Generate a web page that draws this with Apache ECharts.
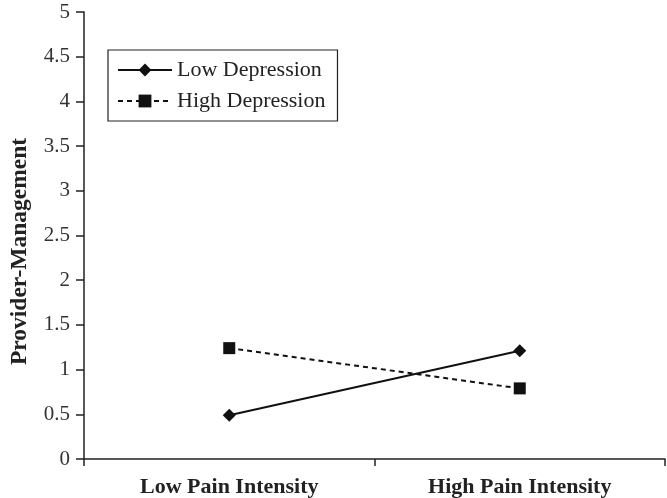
<!DOCTYPE html>
<html><head><meta charset="utf-8">
<script src="https://cdn.jsdelivr.net/npm/echarts@6/dist/echarts.min.js"></script>
<style>html,body{margin:0;padding:0;background:#fff}#c{width:667px;height:498px}</style>
</head><body><div id="c"></div>
<script>
const categories = ['Low Pain Intensity', 'High Pain Intensity'];
const lowDepression = [0.49, 1.21];
const highDepression = [1.24, 0.79];
const yTicks = [0, 0.5, 1, 1.5, 2, 2.5, 3, 3.5, 4, 4.5, 5];

const font = 'Liberation Serif, Times New Roman, serif';
const chart = echarts.init(document.getElementById('c'), null, {renderer: 'canvas'});
chart.setOption({
  backgroundColor: '#fff',
  animation: false,
  grid: {left: 84, right: 2, top: 12, bottom: 39, containLabel: false, outerBoundsMode: 'none'},
  legend: {
    orient: 'vertical', left: 108, top: 50, width: 230,
    padding: [9, 12, 9, 9],
    borderColor: '#222', borderWidth: 1.2,
    itemWidth: 54, itemHeight: 16, itemGap: 9,
    textStyle: {fontFamily: font, fontSize: 22, color: '#222'},
    data: ['Low Depression', 'High Depression']
  },
  xAxis: {
    type: 'category', data: categories, boundaryGap: true,
    axisLine: {lineStyle: {color: '#222', width: 1.5}},
    axisTick: {show: true, length: 7, lineStyle: {color: '#222', width: 1.5}},
    axisLabel: {fontFamily: font, fontWeight: 'bold', fontSize: 22, color: '#222', margin: 17},
    splitLine: {show: false}
  },
  yAxis: {
    type: 'value', min: 0, max: 5, interval: 0.5,
    name: 'Provider-Management', nameLocation: 'middle', nameGap: 52,
    nameTextStyle: {fontFamily: font, fontWeight: 'bold', fontSize: 23.5, color: '#222',
      padding: [0, 32, 0, 0]},
    axisLine: {show: true, lineStyle: {color: '#222', width: 1.5}},
    axisTick: {show: true, length: 8, lineStyle: {color: '#222', width: 1.5}},
    axisLabel: {fontFamily: font, fontSize: 21, color: '#333', margin: 14,
      formatter: v => yTicks.includes(v) ? String(v) : ''},
    splitLine: {show: false}
  },
  series: [
    {name: 'Low Depression', type: 'line', data: lowDepression,
     symbol: 'diamond', symbolSize: 13,
     itemStyle: {color: '#111'}, lineStyle: {color: '#111', width: 2, type: 'solid'}},
    {name: 'High Depression', type: 'line', data: highDepression,
     symbol: 'rect', symbolSize: 12,
     itemStyle: {color: '#111'}, lineStyle: {color: '#111', width: 2, type: [5, 4]}}
  ]
});
</script></body></html>
